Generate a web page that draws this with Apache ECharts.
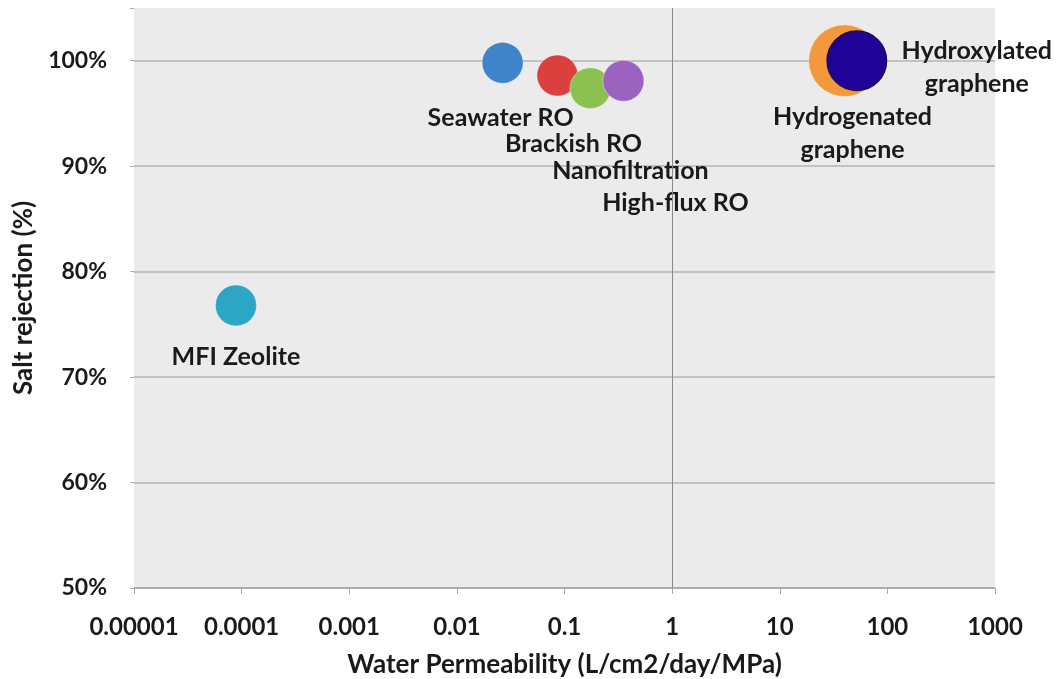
<!DOCTYPE html>
<html><head><meta charset="utf-8">
<script src="https://cdn.jsdelivr.net/npm/echarts@6/dist/echarts.min.js"></script>
<style>html,body{margin:0;padding:0;background:#fff}#c{width:1060px;height:679px}</style>
</head><body><div id="c"></div>
<script>
// Data
var names = ['Seawater RO','Brackish RO','Nanofiltration','High-flux RO','Hydrogenated graphene','Hydroxylated graphene','MFI Zeolite'];
var permeability = [0.0266, 0.086, 0.174, 0.353, 40, 52, 0.0000886];
var rejection = [99.8, 98.6, 97.4, 98.1, 100.0, 100.0, 76.8];
var bubbleSize = [1, 1, 1, 1, 1.75, 1.45, 1];
var colors = ['#3f84c8','#d9403e','#8cc152','#9b63bf','#f4993b','#1d0497','#2ca6c4'];
var xTickLabels = ['0.00001','0.0001','0.001','0.01','0.1','1','10','100','1000'];
var yTickLabels = ['50%','60%','70%','80%','90%','100%'];

var labelFont = 'Lato';
var labelCfg = [
  {text:'Seawater RO', offset:[-2,55]},
  {text:'Brackish RO', offset:[16,68]},
  {text:'Nanofiltration', offset:[40,83]},
  {text:'High-flux RO', offset:[52,122]},
  {text:'Hydrogenated\ngraphene', offset:[8,73]},
  {text:'Hydroxylated\ngraphene', offset:[120,7]},
  {text:'MFI Zeolite', offset:[0,52]}
];

var series = names.map(function(n,i){
  return {
    type:'scatter', name:n,
    z: (i===5?5:2),
    data:[[permeability[i], rejection[i]]],
    symbolSize: 41*bubbleSize[i],
    itemStyle:{color:colors[i], opacity:1, borderColor: i===5?'#2a0a4a':'rgba(255,255,255,0.35)', borderWidth: i===5?1.5:1},
    label:{show:true, position:'inside', offset:labelCfg[i].offset, formatter:labelCfg[i].text,
      color:'#1a1a1a', fontFamily:labelFont, fontWeight:'bold', fontSize:25, lineHeight:33, align:'center'},
    emphasis:{disabled:true}
  };
});
series.push({type:'scatter', data:[], markLine:{silent:true, symbol:'none', label:{show:false},
  lineStyle:{color:'#8a8a8a', width:1, type:'solid'}, data:[{xAxis:1}]}});

var chart = echarts.init(document.getElementById('c'));
chart.setOption({
  animation:false,
  grid:{left:134, right:65, top:8, bottom:91, show:true, backgroundColor:'#ebebeb', borderWidth:0, outerBoundsMode:'none', containLabel:false},
  xAxis:{type:'log', logBase:10, min:0.00001, max:1000,
    name:'Water Permeability (L/cm2/day/MPa)', nameLocation:'middle', nameGap:64,
    nameTextStyle:{color:'#1a1a1a', fontFamily:labelFont, fontWeight:'bold', fontSize:26},
    axisLine:{show:true, lineStyle:{color:'#a8a8a8', width:1.5}},
    axisTick:{show:true, length:6, lineStyle:{color:'#a8a8a8'}},
    splitLine:{show:false}, minorTick:{show:false},
    axisLabel:{margin:27, color:'#1a1a1a', fontFamily:labelFont, fontWeight:'bold', fontSize:24,
      formatter:function(v){ var k=Math.round(Math.log10(v))+5; return xTickLabels[k]||''; }}
  },
  yAxis:{type:'value', min:50, max:105, interval:10,
    name:'Salt rejection (%)', nameLocation:'middle', nameGap:97, nameRotate:90,
    nameTextStyle:{color:'#1a1a1a', fontFamily:labelFont, fontWeight:'bold', fontSize:26},
    axisLine:{show:false},
    axisTick:{show:true, length:4, lineStyle:{color:'#b0b0b0'}},
    splitLine:{show:true, lineStyle:{color:['#a8a8a8','#b4b4b4','#b4b4b4','#b4b4b4','#b4b4b4','#b4b4b4','rgba(0,0,0,0)'], width:1.5}},
    axisLabel:{margin:27, color:'#1a1a1a', fontFamily:labelFont, fontWeight:'bold', fontSize:23,
      formatter:function(v){ if(v%10!==0) return ''; return yTickLabels[(v-50)/10]||''; }}
  },
  series:series
});
</script></body></html>
